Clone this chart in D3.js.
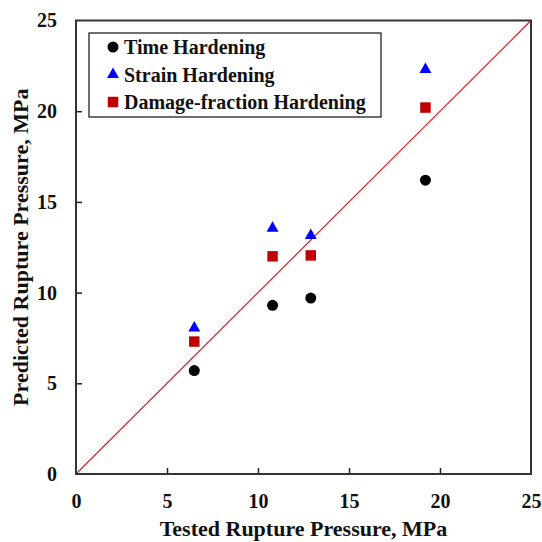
<!DOCTYPE html>
<html>
<head>
<meta charset="utf-8">
<script src="https://cdn.jsdelivr.net/npm/d3@7"></script>
<style>
  html, body { margin: 0; padding: 0; background: #fff; }
  svg text { font-family: "Liberation Serif", "Times New Roman", serif; font-weight: bold; }
</style>
</head>
<body>
<svg id="chart" width="542" height="542"></svg>
<script>
// Tested vs predicted rupture pressure (MPa) for three hardening rules
const tested = [6.5, 10.8, 12.9, 19.2];
const timeHardening = [5.7, 9.3, 9.7, 16.2];
const strainHardening = [8.05, 13.55, 13.15, 22.3];
const damageHardening = [7.3, 12.0, 12.05, 20.2];
const tickValues = [0, 5, 10, 15, 20, 25];
const seriesNames = ["Time Hardening", "Strain Hardening", "Damage-fraction Hardening"];

const svg = d3.select("#chart");
const margin = { left: 76, right: 11, top: 20.5, bottom: 68 };
const W = 542, H = 542;

const x = d3.scaleLinear().domain([0, 25]).range([margin.left, W - margin.right]);
const y = d3.scaleLinear().domain([0, 25]).range([H - margin.bottom, margin.top]);

// 1:1 reference line
svg.append("line")
  .attr("x1", x(0)).attr("y1", y(0))
  .attr("x2", x(25)).attr("y2", y(25))
  .attr("stroke", "#dd1111").attr("stroke-width", 1.1);

// Axes with inward ticks
const xAxis = svg.append("g").attr("transform", `translate(0,${y(0)})`)
  .call(d3.axisBottom(x).tickValues(tickValues).tickSize(-6).tickPadding(20));
const yAxis = svg.append("g").attr("transform", `translate(${x(0)},0)`)
  .call(d3.axisLeft(y).tickValues(tickValues).tickSize(-6).tickPadding(19));
[xAxis, yAxis].forEach(g => {
  g.select(".domain").remove();
  g.selectAll(".tick line").attr("stroke", "#222").attr("stroke-width", 1.5);
  g.selectAll(".tick text").attr("font-size", 20).attr("fill", "#111");
});
xAxis.selectAll(".tick").filter(d => d === 0 || d === 25).select("line").remove();
yAxis.selectAll(".tick").filter(d => d === 0 || d === 25).select("line").remove();

// Plot frame
svg.append("rect")
  .attr("x", x(0)).attr("y", y(25))
  .attr("width", x(25) - x(0)).attr("height", y(0) - y(25))
  .attr("fill", "none").attr("stroke", "#333").attr("stroke-width", 2);

// Axis titles
svg.append("text")
  .attr("x", (x(0) + x(25)) / 2).attr("y", 536)
  .attr("text-anchor", "middle").attr("font-size", 22).attr("fill", "#111")
  .text("Tested Rupture Pressure, MPa");
svg.append("text")
  .attr("transform", `translate(28,${(y(0) + y(25)) / 2}) rotate(-90)`)
  .attr("text-anchor", "middle").attr("font-size", 22).attr("fill", "#111")
  .text("Predicted Rupture Pressure, MPa");

// Markers
const circleSym = d3.symbol().type(d3.symbolCircle).size(95);
const triSym = d3.symbol().type(d3.symbolTriangle).size(62);
const sqSym = d3.symbol().type(d3.symbolSquare).size(110);

svg.append("g").selectAll("path").data(tested)
  .join("path")
  .attr("transform", (d, i) => `translate(${x(d)},${y(timeHardening[i])})`)
  .attr("d", circleSym).attr("fill", "#000");
svg.append("g").selectAll("path").data(tested)
  .join("path")
  .attr("transform", (d, i) => `translate(${x(d)},${y(strainHardening[i])})`)
  .attr("d", triSym).attr("fill", "#0000ff");
svg.append("g").selectAll("path").data(tested)
  .join("path")
  .attr("transform", (d, i) => `translate(${x(d)},${y(damageHardening[i])})`)
  .attr("d", sqSym).attr("fill", "#c00000");

// Legend
const legend = svg.append("g");
legend.append("rect")
  .attr("x", 89).attr("y", 33).attr("width", 292).attr("height", 84)
  .attr("fill", "#fff").attr("stroke", "#222").attr("stroke-width", 1.3);
const legendSyms = [
  { sym: circleSym, fill: "#000" },
  { sym: triSym, fill: "#0000ff" },
  { sym: sqSym, fill: "#c00000" }
];
seriesNames.forEach((name, i) => {
  const cy = 47 + i * 27.5;
  legend.append("path")
    .attr("transform", `translate(113,${cy})`)
    .attr("d", legendSyms[i].sym).attr("fill", legendSyms[i].fill);
  legend.append("text")
    .attr("x", 124).attr("y", cy + 7)
    .attr("font-size", 20).attr("fill", "#111")
    .text(name);
});
</script>
</body>
</html>
